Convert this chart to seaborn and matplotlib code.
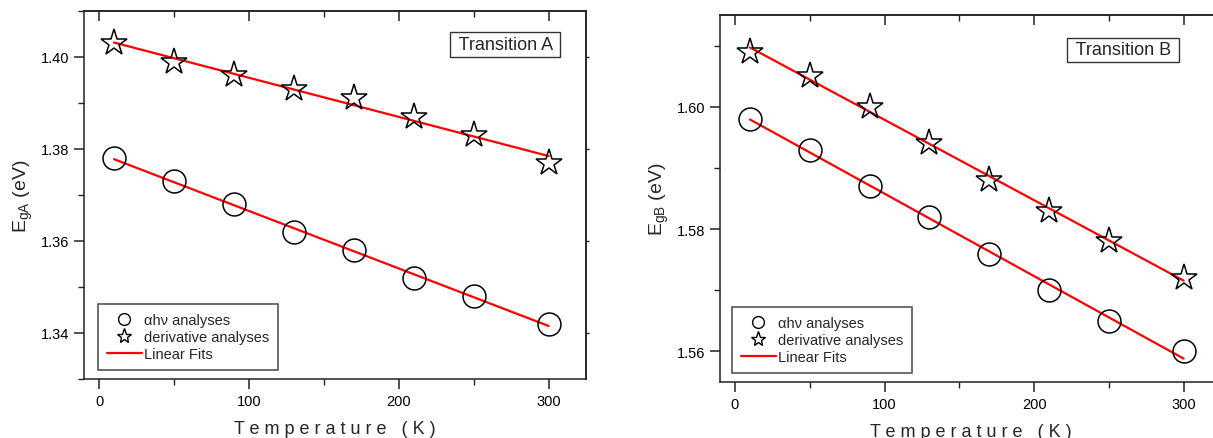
"""
Band gap vs temperature for transitions A and B
"""
import matplotlib
matplotlib.use("Agg")
import matplotlib.pyplot as plt
import seaborn as sns
from matplotlib.ticker import MultipleLocator
from matplotlib.lines import Line2D

# Data
temperature = [10, 50, 90, 130, 170, 210, 250, 300]
ega_ahv = [1.378, 1.373, 1.368, 1.362, 1.358, 1.352, 1.348, 1.342]
ega_deriv = [1.403, 1.399, 1.396, 1.393, 1.391, 1.387, 1.383, 1.377]
egb_ahv = [1.598, 1.593, 1.587, 1.582, 1.576, 1.570, 1.565, 1.560]
egb_deriv = [1.609, 1.605, 1.600, 1.594, 1.588, 1.583, 1.578, 1.572]

legend_labels = ["\u03b1h\u03bd analyses", "derivative analyses", "Linear Fits"]

sns.set_theme(style="ticks")
plt.rcParams["font.family"] = ["Liberation Sans", "DejaVu Sans"]
plt.rcParams["axes.linewidth"] = 1.1
plt.rcParams["axes.edgecolor"] = "#222222"

fig = plt.figure(figsize=(12.13, 4.39), dpi=100)
ax_a = fig.add_axes([0.0693, 0.1344, 0.4138, 0.8383])
ax_b = fig.add_axes([0.5936, 0.1276, 0.4130, 0.8360])


def draw_panel(ax, ahv, deriv, ylim, ylabel, title, title_xy, legend_xy):
    """
    Draw one panel: hollow markers, linear fits, legend and label box
    """
    sns.regplot(x=temperature, y=deriv, ax=ax, scatter=False, ci=None,
                color="red", line_kws=dict(lw=1.6))
    sns.regplot(x=temperature, y=ahv, ax=ax, scatter=False, ci=None,
                color="red", line_kws=dict(lw=1.6))
    ax.plot(temperature, ahv, linestyle="none", marker="o", ms=16.5,
            mfc="none", mec="black", mew=1.1)
    ax.plot(temperature, deriv, linestyle="none", marker="*", ms=20,
            mfc="none", mec="black", mew=1.1)

    ax.set_xlim(-10, 325)
    ax.set_ylim(*ylim)
    ax.xaxis.set_major_locator(MultipleLocator(100))
    ax.xaxis.set_minor_locator(MultipleLocator(50))
    ax.yaxis.set_major_locator(MultipleLocator(0.02))
    ax.yaxis.set_minor_locator(MultipleLocator(0.01))
    ax.yaxis.set_major_formatter(lambda v, p: f"{v:.2f}")
    ax.tick_params(which="major", direction="out", length=7, width=1.1,
                   labelsize=10.5, colors="#222222", labelcolor="black")
    ax.tick_params(which="minor", direction="out", length=4, width=1.0,
                   colors="#222222")

    top = ax.secondary_xaxis("top")
    top.xaxis.set_major_locator(MultipleLocator(100))
    top.xaxis.set_minor_locator(MultipleLocator(50))
    top.tick_params(which="major", direction="in", length=7, width=1.1,
                    labeltop=False, colors="#222222")
    top.tick_params(which="minor", direction="in", length=4, width=1.0,
                    colors="#222222")
    right = ax.secondary_yaxis("right")
    right.yaxis.set_major_locator(MultipleLocator(0.02))
    right.tick_params(which="major", direction="out", length=2.5, width=1.0,
                      labelright=False, colors="#222222")
    right.tick_params(which="minor", length=0)

    ax.set_xlabel("T e m p e r a t u r e   ( K )", fontsize=13, labelpad=9)
    ax.set_ylabel(ylabel, fontsize=14, labelpad=4)

    ax.text(*title_xy, " " + title + " ", transform=ax.transAxes,
            ha="center", va="center", fontsize=13,
            bbox=dict(boxstyle="square,pad=0.2", fc="white", ec="#333333",
                      lw=1.0))

    handles = [
        Line2D([], [], linestyle="none", marker="o", ms=8.5, mfc="none",
               mec="black", mew=1.0),
        Line2D([], [], linestyle="none", marker="*", ms=11, mfc="none",
               mec="black", mew=1.0),
        Line2D([], [], color="red", lw=1.6),
    ]
    leg = ax.legend(handles, legend_labels, loc="lower left",
                    bbox_to_anchor=legend_xy, borderaxespad=0, fontsize=10.5,
                    fancybox=False, framealpha=1, edgecolor="#555555",
                    handlelength=2.4, handletextpad=0.15, labelspacing=0.22,
                    borderpad=0.6)
    leg.get_frame().set_linewidth(1.2)


draw_panel(ax_a, ega_ahv, ega_deriv, (1.33, 1.41), "E$_{\\mathregular{gA}}$ (eV)",
           "Transition A", (0.839, 0.909), (0.028, 0.024))
draw_panel(ax_b, egb_ahv, egb_deriv, (1.555, 1.615), "E$_{\\mathregular{gB}}$ (eV)",
           "Transition B", (0.805, 0.905), (0.024, 0.024))

fig.savefig("out.png", dpi=100)
